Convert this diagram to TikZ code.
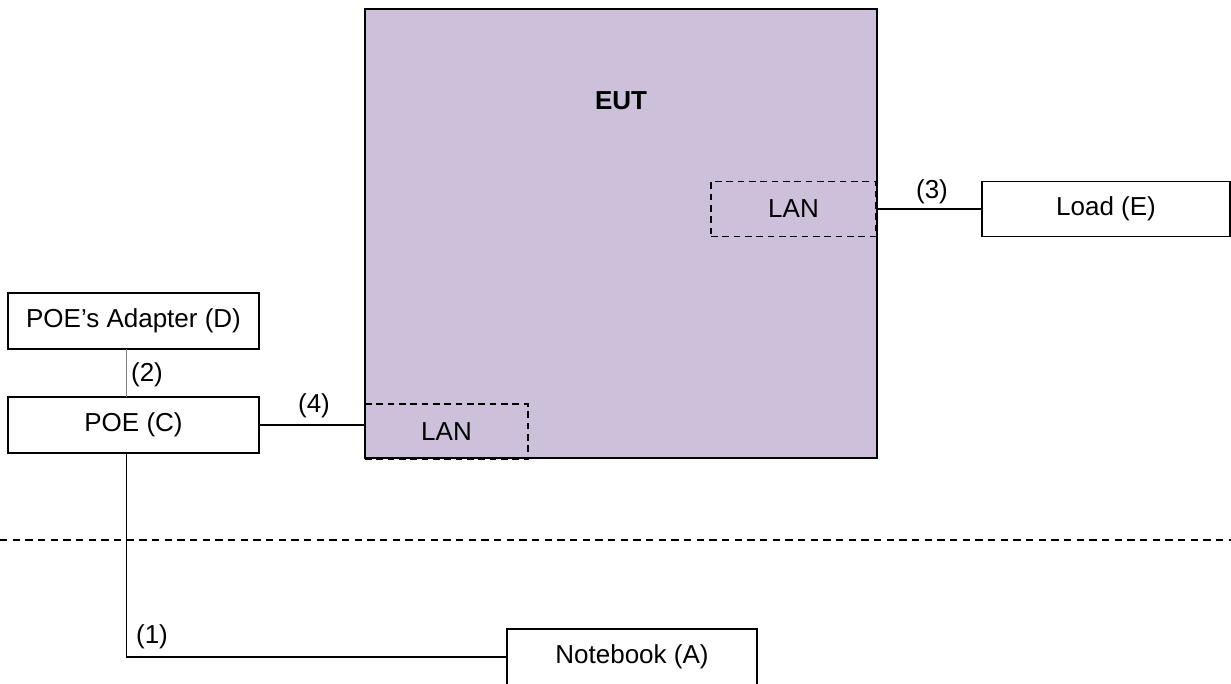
\documentclass[tikz,border=0pt]{standalone}
\usepackage{fontspec}
\setmainfont{Liberation Sans}
\definecolor{eutfill}{RGB}{204,192,218}
\definecolor{lgray}{RGB}{128,128,128}
\begin{document}
\begin{tikzpicture}[x=0.75pt,y=-0.75pt,
  every node/.style={inner sep=0pt, outer sep=0pt, font=\fontsize{19.5pt}{23pt}\selectfont},
  dev/.style={draw=black, line width=1.3pt, fill=white, minimum width=188pt, minimum height=42pt},
  eutbox/.style={draw=black, line width=1.3pt, fill=eutfill, minimum width=384pt, minimum height=336.75pt},
  lanbox/.style={draw=black, line width=1.2pt, dash pattern=on 5pt off 3.5pt, minimum height=41pt},
  wire/.style={draw=black, line width=1pt},
  graywire/.style={draw=lgray, line width=1.2pt},
  sepline/.style={draw=black, line width=1pt, dash pattern=on 5.5pt off 4pt},
  lbl/.style={}
]
\useasboundingbox (0,0) rectangle (1231,683);
\clip (0,0) rectangle (1231,683);

% EUT
\node[eutbox] (eut) at (621,233.5) {};
\node[font=\fontsize{19.5pt}{23pt}\selectfont\bfseries] (euttxt) at (621,101) {EUT};
\node[lanbox, minimum width=123.75pt] (lanu) at (793.5,209) {LAN};
\node[lanbox, minimum width=122.25pt] (lanl) at (446.5,431.5) {LAN};

% devices
\node[dev] (adapter) at (133.5,321) {POE’s Adapter (D)};
\node[dev] (poec) at (133.5,425) {POE (C)};
\node[dev, minimum width=186pt, minimum height=41.25pt] (load) at (1106,209) {Load (E)};
\node[dev, minimum width=187.5pt] (nb) at (632,657) {Notebook (A)};

% separator
\coordinate (sepL) at (0,540);
\coordinate (sepR) at (1231,540);
\draw[sepline] (sepL) -- (sepR);

% connectors
\coordinate (vx) at (126.5,0);
\draw[graywire] (adapter.south -| vx) -- (poec.north -| vx);
\draw[wire] (poec.east) -- (poec.east -| lanl.west);
\draw[wire] (lanu.east) -- (lanu.east -| load.west);
\draw[wire] (poec.south -| vx) |- (nb.west);

% labels
\node[lbl] (l2) at (147,375) {(2)};
\node[lbl] (l4) at (314,406) {(4)};
\node[lbl] (l3) at (932,192) {(3)};
\node[lbl] (l1) at (152,637) {(1)};
\end{tikzpicture}
\end{document}
